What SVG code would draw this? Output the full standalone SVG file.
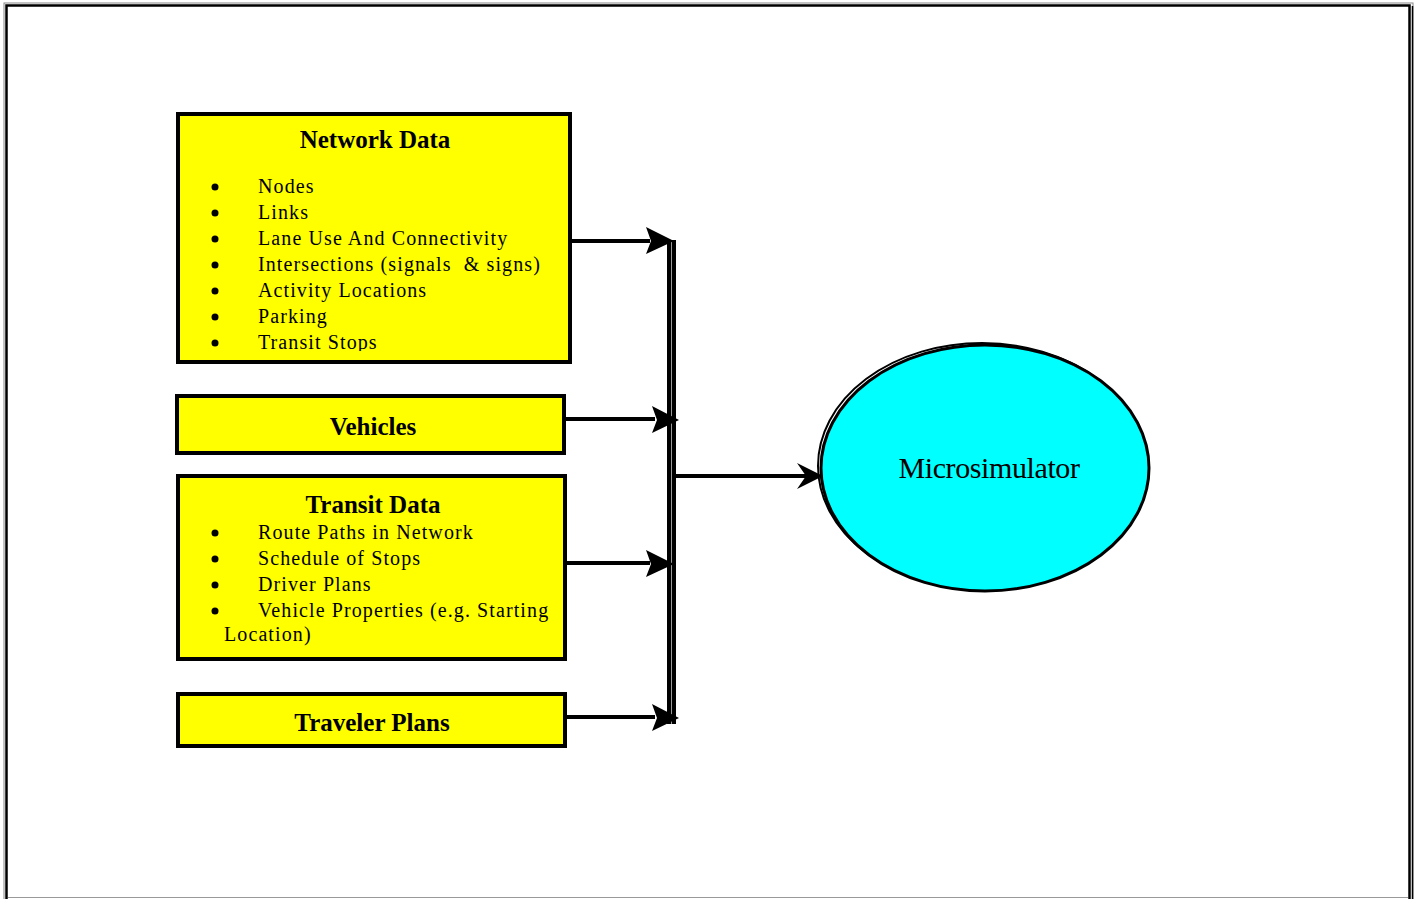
<svg xmlns="http://www.w3.org/2000/svg" width="1417" height="899" viewBox="0 0 1417 899">
<style>
.box{fill:#ffff00;stroke:#000;stroke-width:4}
.ttl{font-family:"Liberation Serif","Times New Roman",serif;font-weight:bold;font-size:25px;text-anchor:middle;fill:#000}
.itm{font-family:"Liberation Serif","Times New Roman",serif;font-size:20px;letter-spacing:1.1px;fill:#000}
.bul{fill:#000}
.ln{stroke:#000;stroke-width:4;fill:none}
.hd{fill:#000}
</style>
<defs>
<clipPath id="ndclip"><rect x="180" y="116" width="388" height="235"/></clipPath>
</defs>
<rect width="1417" height="899" fill="#fff"/>
<g id="frame">
<rect x="4" y="3" width="1409" height="1000" fill="none" stroke="#888" stroke-width="1"/>
<rect x="6.5" y="5.5" width="1403" height="1000" fill="none" stroke="#000" stroke-width="2.5"/>
<line x1="1412.5" y1="6" x2="1412.5" y2="899" stroke="#000" stroke-width="1.5"/>
<line x1="8" y1="897.5" x2="1408" y2="897.5" stroke="#999" stroke-width="1"/>
</g>
<g id="network-data">
<rect class="box" x="178" y="114" width="392" height="248"/>
<text class="ttl" x="375" y="148">Network Data</text>
<g clip-path="url(#ndclip)">
<circle class="bul" cx="215" cy="187" r="3.5"/><text class="itm" x="258" y="193">Nodes</text>
<circle class="bul" cx="215" cy="213" r="3.5"/><text class="itm" x="258" y="219">Links</text>
<circle class="bul" cx="215" cy="239" r="3.5"/><text class="itm" x="258" y="245">Lane Use And Connectivity</text>
<circle class="bul" cx="215" cy="265" r="3.5"/><text class="itm" x="258" y="271" xml:space="preserve">Intersections (signals  &amp; signs)</text>
<circle class="bul" cx="215" cy="291" r="3.5"/><text class="itm" x="258" y="297">Activity Locations</text>
<circle class="bul" cx="215" cy="317" r="3.5"/><text class="itm" x="258" y="323">Parking</text>
<circle class="bul" cx="215" cy="343" r="3.5"/><text class="itm" x="258" y="349">Transit Stops</text>
</g>
</g>
<g id="vehicles">
<rect class="box" x="177" y="396" width="387" height="57"/>
<text class="ttl" x="373" y="435">Vehicles</text>
</g>
<g id="transit-data">
<rect class="box" x="178" y="476" width="387" height="183"/>
<text class="ttl" x="373" y="513">Transit Data</text>
<circle class="bul" cx="215" cy="533" r="3.5"/><text class="itm" x="258" y="539">Route Paths in Network</text>
<circle class="bul" cx="215" cy="559" r="3.5"/><text class="itm" x="258" y="565">Schedule of Stops</text>
<circle class="bul" cx="215" cy="585" r="3.5"/><text class="itm" x="258" y="591">Driver Plans</text>
<circle class="bul" cx="215" cy="611" r="3.5"/><text class="itm" x="258" y="617">Vehicle Properties (e.g. Starting</text>
<text class="itm" x="224" y="641">Location)</text>
</g>
<g id="traveler-plans">
<rect class="box" x="178" y="694" width="387" height="52"/>
<text class="ttl" x="372" y="731">Traveler Plans</text>
</g>
<g id="microsimulator">
<ellipse cx="982" cy="466" rx="164" ry="123" fill="none" stroke="#000" stroke-width="2"/>
<ellipse cx="985" cy="468" rx="164" ry="123" fill="#00ffff" stroke="#000" stroke-width="3"/>
<text x="989" y="478" font-family="Liberation Serif, Times New Roman, serif" font-size="30" letter-spacing="-0.4" text-anchor="middle" fill="#000">Microsimulator</text>
</g>
<g id="connectors">
<line x1="669" y1="240" x2="669" y2="724" stroke="#000" stroke-width="4"/>
<line x1="674" y1="240" x2="674" y2="724" stroke="#000" stroke-width="4"/>
<line x1="671.5" y1="240" x2="671.5" y2="724" stroke="#555" stroke-width="0.6"/>
<line class="ln" x1="569" y1="241" x2="650" y2="241"/>
<polygon class="hd" points="674,241 646,227 651,241 646,254"/>
<line class="ln" x1="565" y1="419" x2="655" y2="419"/>
<polygon class="hd" points="679,420 652,406 657,420 652,433"/>
<line class="ln" x1="565" y1="563" x2="650" y2="563"/>
<polygon class="hd" points="674,564 646,550 651,564 646,577"/>
<line class="ln" x1="565" y1="717" x2="655" y2="717"/>
<polygon class="hd" points="679,718 652,704 657,718 652,731"/>
<line class="ln" x1="672" y1="476" x2="808" y2="476"/>
<polygon class="hd" points="823,476 797,463 806,476 797,489"/>
</g>
</svg>
